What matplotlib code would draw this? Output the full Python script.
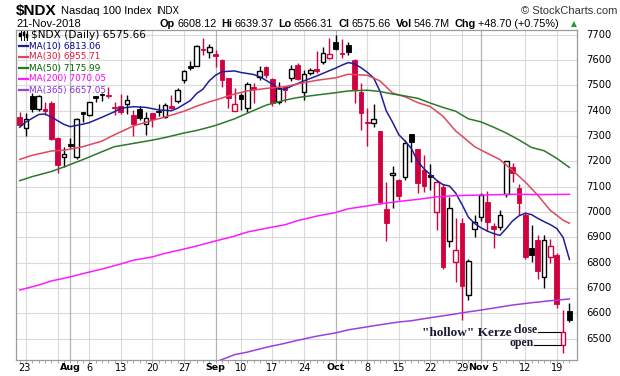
import matplotlib.pyplot as plt
from matplotlib.patches import Rectangle
from matplotlib.lines import Line2D

# $NDX daily, 20-Jul-2018 .. 21-Nov-2018 (88 sessions, index 0..87)
opens = [7377, 7330, 7458, 7405, 7405, 7430, 7291, 7216, 7268, 7216,
         7393, 7385, 7458, 7465, 7462, 7414, 7420, 7425, 7383, 7406,
         7347, 7390, 7398, 7377, 7418, 7438, 7521, 7578, 7578, 7645,
         7630, 7623, 7600, 7528, 7400, 7462, 7410, 7493, 7532, 7572,
         7524, 7433, 7496, 7528, 7582, 7475, 7548, 7563, 7594, 7607,
         7673, 7627, 7660, 7600, 7475, 7357, 7350, 7318, 7012, 7145,
         7126, 7137, 7307, 7247, 7166, 7145, 7000, 7100, 6887, 6804,
         6955, 6672, 6932, 6979, 7041, 6945, 6942, 7071, 7177, 7096,
         6989, 6859, 6889, 6745, 6821, 6830, 6475, 6608.12]
highs = [7394, 7391, 7470, 7462, 7436, 7438, 7295, 7258, 7291, 7370,
         7396, 7436, 7460, 7468, 7495, 7434, 7465, 7463, 7403, 7418,
         7396, 7392, 7426, 7430, 7462, 7490, 7562, 7596, 7658, 7688,
         7665, 7640, 7603, 7530, 7488, 7471, 7514, 7508, 7575, 7577,
         7530, 7515, 7497, 7580, 7590, 7561, 7570, 7635, 7650, 7686,
         7700, 7682, 7673, 7603, 7508, 7410, 7426, 7320, 7120, 7180,
         7130, 7285, 7307, 7248, 7225, 7189, 7125, 7110, 7061, 6975,
         6975, 6814, 6990, 7075, 7085, 6955, 7008, 7203, 7193, 7110,
         7000, 6947, 6910, 6910, 6895, 6840, 6613, 6639.37]
lows = [7340, 7300, 7395, 7400, 7383, 7285, 7155, 7179, 7251, 7210,
        7357, 7380, 7436, 7440, 7449, 7383, 7386, 7386, 7301, 7365,
        7304, 7337, 7380, 7370, 7405, 7430, 7510, 7560, 7575, 7620,
        7610, 7574, 7495, 7410, 7398, 7403, 7396, 7429, 7520, 7530,
        7420, 7426, 7436, 7517, 7520, 7442, 7540, 7548, 7585, 7603,
        7640, 7607, 7620, 7432, 7322, 7261, 7334, 7030, 6886, 7015,
        7047, 7128, 7199, 7077, 7080, 7087, 6930, 6775, 6863, 6725,
        6574, 6653, 6900, 6965, 6925, 6857, 6930, 7060, 7120, 6989,
        6815, 6804, 6735, 6699, 6800, 6620, 6442, 6566.31]
closes = [7344, 7366, 7405, 7458, 7398, 7290, 7186, 7229, 7261, 7367,
          7388, 7433, 7452, 7461, 7458, 7410, 7395, 7442, 7346, 7370,
          7373, 7366, 7393, 7424, 7410, 7482, 7557, 7567, 7655, 7640,
          7650, 7617, 7521, 7449, 7426, 7445, 7505, 7487, 7557, 7539,
          7429, 7489, 7482, 7563, 7525, 7544, 7561, 7557, 7627, 7623,
          7642, 7623, 7633, 7484, 7392, 7350, 7366, 7038, 6958, 7155,
          7065, 7271, 7277, 7113, 7104, 7140, 7120, 6782, 7015, 6850,
          6708, 6806, 6962, 7067, 6962, 6932, 6988, 7202, 7155, 7035,
          6824, 6832, 6768, 6889, 6865, 6636, 6527, 6575.66]

# moving averages (session index, value)
ma10_x = [0, 1, 3, 4, 5, 7, 8, 10, 11, 13, 15, 16, 18, 20, 22, 24, 25, 27, 28, 29,
          30, 31, 32, 34, 35, 37, 38, 40, 41, 42, 43, 45, 47, 49, 50, 51, 52, 53, 54, 55,
          56, 57, 58, 59, 60, 61, 62, 63, 64, 65, 66, 67, 68, 69, 70, 71, 72, 73, 74, 75,
          76, 77, 78, 79, 80, 81, 82, 83, 84, 85, 86, 87]
ma10_v = [7335, 7356, 7385, 7387, 7375, 7346, 7337, 7347, 7353, 7374, 7396, 7410, 7416, 7413,
          7403, 7400, 7410, 7440, 7468, 7485, 7518, 7540, 7554, 7557, 7551, 7543, 7534, 7505,
          7485, 7485, 7497, 7518, 7537, 7558, 7568, 7580, 7590, 7585, 7570, 7552, 7530, 7478,
          7400, 7355, 7305, 7280, 7250, 7200, 7170, 7148, 7125, 7108, 7103, 7075, 7030, 6980,
          6955, 6938, 6925, 6915, 6908, 6935, 6965, 6985, 6995, 6990, 6975, 6962, 6950, 6935,
          6900, 6813.06]
ma30_x = [0, 2, 5, 7, 10, 13, 15, 18, 21, 23, 26, 28, 30, 31, 34, 36, 39, 42, 44, 47,
          50, 52, 55, 57, 59, 61, 63, 65, 67, 69, 70, 72, 74, 76, 78, 80, 82, 84, 86, 87]
ma30_v = [7208, 7224, 7241, 7244, 7258, 7280, 7305, 7340, 7362, 7375, 7398, 7418, 7435, 7442,
          7466, 7478, 7488, 7495, 7506, 7520, 7530, 7544, 7540, 7518, 7470, 7455, 7432, 7416,
          7378, 7320, 7300, 7258, 7232, 7207, 7164, 7119, 7066, 7006, 6968, 6955.71]
ma50_x = [0, 2, 5, 7, 10, 13, 15, 18, 21, 23, 26, 28, 30, 31, 34, 36, 39, 42, 44, 47,
          50, 52, 55, 57, 59, 61, 63, 65, 67, 69, 71, 73, 75, 77, 79, 81, 83, 85, 87]
ma50_v = [7124, 7140, 7160, 7178, 7207, 7238, 7258, 7271, 7284, 7294, 7312, 7322, 7335, 7342,
          7368, 7390, 7422, 7442, 7452, 7462, 7471, 7478, 7481, 7476, 7466, 7458, 7449, 7430,
          7413, 7398, 7368, 7356, 7335, 7312, 7285, 7255, 7242, 7212, 7175.99]
ma200_x = [0, 3, 5, 8, 10, 13, 16, 18, 21, 23, 26, 28, 31, 34, 36, 39, 42, 44, 47, 50,
           52, 55, 57, 60, 63, 66, 69, 73, 78, 83, 87]
ma200_v = [6692, 6712, 6728, 6744, 6757, 6775, 6795, 6810, 6823, 6837, 6854, 6866, 6886, 6905,
           6921, 6936, 6950, 6966, 6984, 6998, 7013, 7024, 7032, 7042, 7050, 7060, 7065, 7067,
           7070, 7069, 7070.05]
ma365_x = [31, 34, 36, 39, 42, 44, 47, 50, 52, 55, 57, 60, 62, 65, 68, 71, 73, 76, 78, 81,
           84, 87]
ma365_v = [6408, 6437, 6447, 6466, 6482, 6494, 6510, 6523, 6535, 6547, 6555, 6566, 6571, 6583,
           6594, 6606, 6613, 6625, 6633, 6642, 6650, 6657.05]

ma_names = ['MA(10)', 'MA(30)', 'MA(50)', 'MA(200)', 'MA(365)']

# date axis
tick_idx = [1, 8, 11, 16, 21, 26, 31, 35, 40, 45, 50, 55, 60, 65, 70, 73, 75, 80, 85]
tick_lab = ['23', 'Aug', '6', '13', '20', '27', 'Sep', '10', '17', '24', 'Oct', '8', '15',
            '22', '29', 'Nov', '5', '12', '19']
week_idx = [1, 6, 11, 16, 21, 26, 35, 40, 45, 55, 60, 65, 70, 80, 85]
month_idx = [8, 31, 50, 73]
price_ticks = [6500, 6600, 6700, 6800, 6900, 7000, 7100, 7200, 7300, 7400, 7500, 7600, 7700]

RED = '#d1003f'
line_cols = ['#1f1f99', '#e0475c', '#2b7a2b', '#ff1aff', '#9b3fe0']
text_cols = ['#00008b', '#dc143c', '#006400', '#ff00ff', '#8a2be2']

W, H = 620, 376
fig = plt.figure(figsize=(6.2, 3.76), dpi=100)
ax = fig.add_axes([16 / W, 16 / H, 561 / W, 330 / H])
ax.set_xlim(-0.59, 88.2)
ax.set_ylim(6416, 7718.6)

for y in price_ticks:
    ax.axhline(y, color='#dadada', lw=0.8, zorder=0)
for i in week_idx:
    ax.axvline(i, color='#dadada', lw=0.8, zorder=0)
for i in month_idx:
    ax.axvline(i, color='#b4b4b4', lw=0.9, zorder=0)

# candles
bw = 0.74
for i in range(len(closes)):
    o, h, l, c = opens[i], highs[i], lows[i], closes[i]
    prev = closes[i - 1] if i > 0 else o
    col = RED if c < prev else 'black'
    ax.plot([i, i], [l, h], color=col, lw=1.0, solid_capstyle='butt', zorder=3)
    lo = min(o, c)
    hgt = max(abs(c - o), 4)
    if c < o:
        ax.add_patch(Rectangle((i - bw / 2, lo), bw, hgt, facecolor=col, edgecolor=col,
                               lw=0.6, zorder=4))
    else:
        ax.add_patch(Rectangle((i - bw / 2, lo), bw, hgt, facecolor='white', edgecolor=col,
                               lw=1.0, zorder=4))

mas = [(ma10_x, ma10_v), (ma30_x, ma30_v), (ma50_x, ma50_v), (ma200_x, ma200_v),
       (ma365_x, ma365_v)]
for (mx, mv), col in zip(mas, line_cols):
    ax.plot(mx, mv, color=col, lw=1.1, zorder=5)

ax.set_xticks([])
ax.set_yticks([])
ax.set_xticks(range(len(closes)), minor=True)
ax.tick_params(axis='x', which='minor', length=2, color='#999999', direction='out')
for s in ax.spines.values():
    s.set_color('#9a9a9a')
    s.set_linewidth(0.9)


def ftext(x, y, s, **kw):
    kw.setdefault('va', 'center')
    return fig.text(x / W, 1 - y / H, s, **kw)


# right price scale
for y in price_ticks:
    yp = 34.7 + (7700 - y) * 0.2533
    ftext(586, yp, str(y), fontsize=7.2, family='DejaVu Sans')

# date labels
xform = ax.get_xaxis_transform()
shift = {'23': -0.3, 'Nov': -0.35, '5': 0.15}
for i, lab in zip(tick_idx, tick_lab):
    bold = lab in ('Aug', 'Sep', 'Oct', 'Nov')
    ax.text(i + shift.get(lab, 0), -8 / 330, lab, transform=xform, ha='center', va='center',
            fontsize=6.8 if bold else 7.0, fontweight='bold' if bold else 'normal',
            family='DejaVu Sans')

# header
r = fig.canvas.get_renderer()


def row(x, y, parts):
    for txt, size, weight, col, fam, gap in parts:
        t = ftext(x, y, txt, fontsize=size, fontweight=weight, color=col, family=fam)
        x += t.get_window_extent(renderer=r).width + gap


narrow = ['Liberation Sans Narrow', 'Liberation Sans']
row(16, 11, [('$NDX', 11, 'bold', 'black', narrow, 4),
             ('Nasdaq 100 Index', 8, 'normal', 'black', 'Liberation Sans', 5),
             ('INDX', 7, 'normal', 'black', 'Liberation Sans', 0)])
ftext(16, 24, '21-Nov-2018', fontsize=8, family='Liberation Sans')
hdr = [('Op', 'bold'), ('6608.12', 'normal'), ('Hi', 'bold'), ('6639.37', 'normal'),
       ('Lo', 'bold'), ('6566.31', 'normal'), ('Cl', 'bold'), ('6575.66', 'normal'),
       ('Vol', 'bold'), ('546.7M', 'normal'), ('Chg', 'bold'), ('+48.70 (+0.75%)', 'normal')]
parts = []
for txt, wgt in hdr:
    parts.append((txt, 7.8, wgt, 'black', 'Liberation Sans', 2 if wgt == 'bold' else 5))
row(160, 24, parts)
ftext(571, 24, '\u25b2', fontsize=5.5, color='#2a9a2a', family='DejaVu Sans')
ftext(617, 11, '\u00a9 StockCharts.com', fontsize=8, color='#333333', family='Liberation Sans',
      ha='right')

# legend block
for k, (dx, b0, b1) in enumerate([(20.5, 33, 37), (23.5, 32, 36), (26.5, 34, 38)]):
    fig.add_artist(Line2D([dx / W, dx / W], [1 - 30.5 / H, 1 - 39.5 / H], color='black', lw=0.7))
    fig.add_artist(Rectangle(((dx - 1) / W, 1 - b1 / H), 2 / W, (b1 - b0) / H,
                             facecolor='black', edgecolor='black', lw=0.3))
ftext(31, 35, '$NDX (Daily) 6575.66', fontsize=7.6, family='DejaVu Sans')
ma_last = [ma10_v[-1], ma30_v[-1], ma50_v[-1], ma200_v[-1], ma365_v[-1]]
for k, (name, val) in enumerate(zip(ma_names, ma_last)):
    yy = 46 + k * 11
    fig.add_artist(Line2D([19 / W, 28 / W], [1 - yy / H] * 2, color=line_cols[k], lw=1.6))
    ftext(29.5, yy, f'{name} {val:.2f}', fontsize=6.4, color=text_cols[k], family='DejaVu Sans')

# "hollow" candle annotation on 20-Nov
n20 = 86
ax.plot([82.0, n20 - 0.45], [closes[n20]] * 2, color='black', lw=0.8, zorder=6)
ax.plot([81.4, n20 - 0.45], [opens[n20]] * 2, color='black', lw=0.8, zorder=6)
serif = dict(family='Liberation Serif', fontweight='bold', color='#1b1b33', zorder=7)
ax.text(82.0, closes[n20] + 8, 'close', ha='right', va='center', fontsize=8.5, **serif)
ax.text(81.4, opens[n20] + 8, 'open', ha='right', va='center', fontsize=8.5, **serif)
ax.text(63.6, 6522, '"hollow" Kerze', ha='left', va='center', fontsize=9.5, **serif)

fig.savefig('out.png', dpi=100)
